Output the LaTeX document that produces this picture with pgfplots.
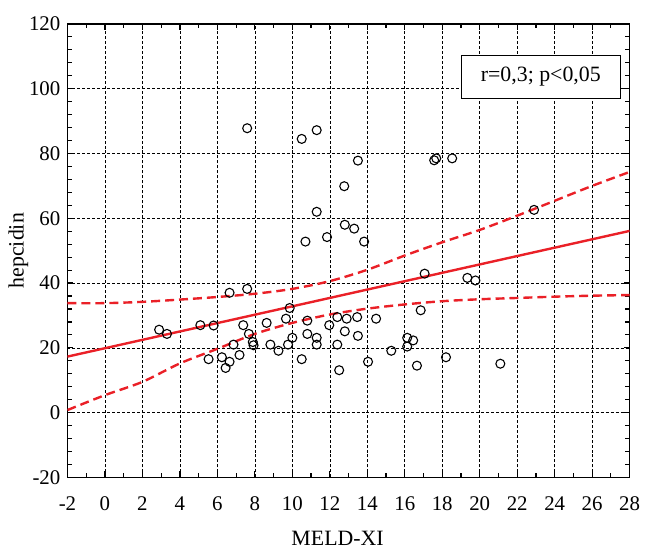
\documentclass[border=0pt]{standalone}
\usepackage{fontspec}
\setmainfont{Liberation Serif}
\usepackage{pgfplots}
\pgfplotsset{compat=1.18}
\definecolor{myred}{RGB}{234,32,39}
\begin{document}
\fontsize{21}{24}\selectfont
\begin{tikzpicture}
\begin{axis}[
  width=564bp, height=455bp, scale only axis,
  xmin=-2, xmax=28, ymin=-20, ymax=120,
  xtick={-2,0,...,28}, ytick={-20,0,...,120},
  minor x tick num=1, minor y tick num=4,
  tick align=inside,
  major tick length=6bp, minor tick length=4.5bp,
  axis line style={line width=1.6bp},
  every tick/.style={black, line width=1.2bp},
  grid=major,
  major grid style={black, line width=0.6bp, dash pattern=on 3bp off 2bp},
  /pgf/number format/assume math mode=true,
  ticklabel style={font=\fontsize{21}{24}\selectfont},
  xticklabel style={yshift=-12bp},
  xlabel={MELD-XI}, ylabel={hepcidin},
  xlabel style={font=\fontsize{22}{24}\selectfont, at={([xshift=-11bp,yshift=-68bp]axis description cs:0.5,0)}, anchor=base},
  ylabel style={font=\fontsize{22}{24}\selectfont, at={([xshift=-44bp]axis description cs:0,0.5)}, anchor=base},
]
% regression line
\addplot[myred, line width=2.4bp, no marks] coordinates {(-2,17.3) (28,56.1)};
% upper confidence band
\addplot[myred, line width=2.4bp, no marks, smooth, dash pattern=on 9bp off 5bp] coordinates {
(-2,33.8) (0,33.8) (2,34.2) (4,34.9) (6,35.7) (8,36.7) (10,38.2) (12,40.6) (14,44.1)
(16,48.5) (18,52.6) (20,56.4) (22,60.8) (24,65.4) (26,70.0) (28,74.3)};
% lower confidence band
\addplot[myred, line width=2.4bp, no marks, smooth, dash pattern=on 9bp off 5bp] coordinates {
(-2,0.8) (0,5.4) (2,9.5) (4,15.2) (6,19.7) (8,24.3) (10,27.7) (12,30.3) (14,32.1)
(16,33.4) (18,34.4) (20,35.0) (22,35.4) (24,35.8) (26,36.1) (28,36.3)};
% data points
\addplot[only marks, mark=o, mark size=4.5bp, black, mark options={line width=1.1bp}] coordinates {
(7.59,87.8) (10.5,84.5) (11.3,87.2) (13.5,77.8) (12.77,69.9) (11.3,62.0) (12.8,58.0)
(13.3,56.8) (10.7,52.8) (11.85,54.2) (13.83,52.8) (6.65,37.0) (7.59,38.2) (9.86,32.3)
(9.66,29.0) (10.8,28.4) (8.63,27.7) (7.38,27.0) (7.68,24.3) (7.89,21.8) (7.93,20.8)
(2.89,25.6) (3.31,24.3) (5.09,27.0) (5.8,26.9) (6.86,21.0) (5.53,16.5) (6.24,17.1)
(6.65,15.7) (6.44,13.8) (7.18,17.8) (8.83,21.0) (9.26,19.1) (9.77,21.0) (10.0,23.1)
(10.5,16.5) (10.8,24.3) (11.3,23.1) (11.3,21.0) (12.4,29.5) (12.9,29.0) (13.46,29.5)
(11.97,27.0) (12.8,25.1) (13.5,23.7) (12.4,21.0) (12.5,13.1) (14.47,29.0) (14.04,15.7)
(15.28,19.1) (16.13,23.1) (16.45,22.3) (16.13,20.4) (16.65,14.5) (18.2,17.1) (21.1,15.1)
(17.57,77.9) (17.68,78.5) (18.53,78.5) (22.9,62.6) (17.06,42.9) (19.34,41.6) (19.77,40.8)
(16.85,31.6)};
\node[draw, fill=white, line width=0.9bp, minimum width=160bp, minimum height=43bp,
  inner sep=0pt, font=\fontsize{22}{24}\selectfont] at (rel axis cs:0.842,0.8835) {r=0,3; p<0,05};
\end{axis}
\path[use as bounding box] ([xshift=-67.7bp,yshift=-70bp]current axis.south west)
  rectangle ([xshift=15.3bp,yshift=24bp]current axis.north east);
\end{tikzpicture}
\end{document}
